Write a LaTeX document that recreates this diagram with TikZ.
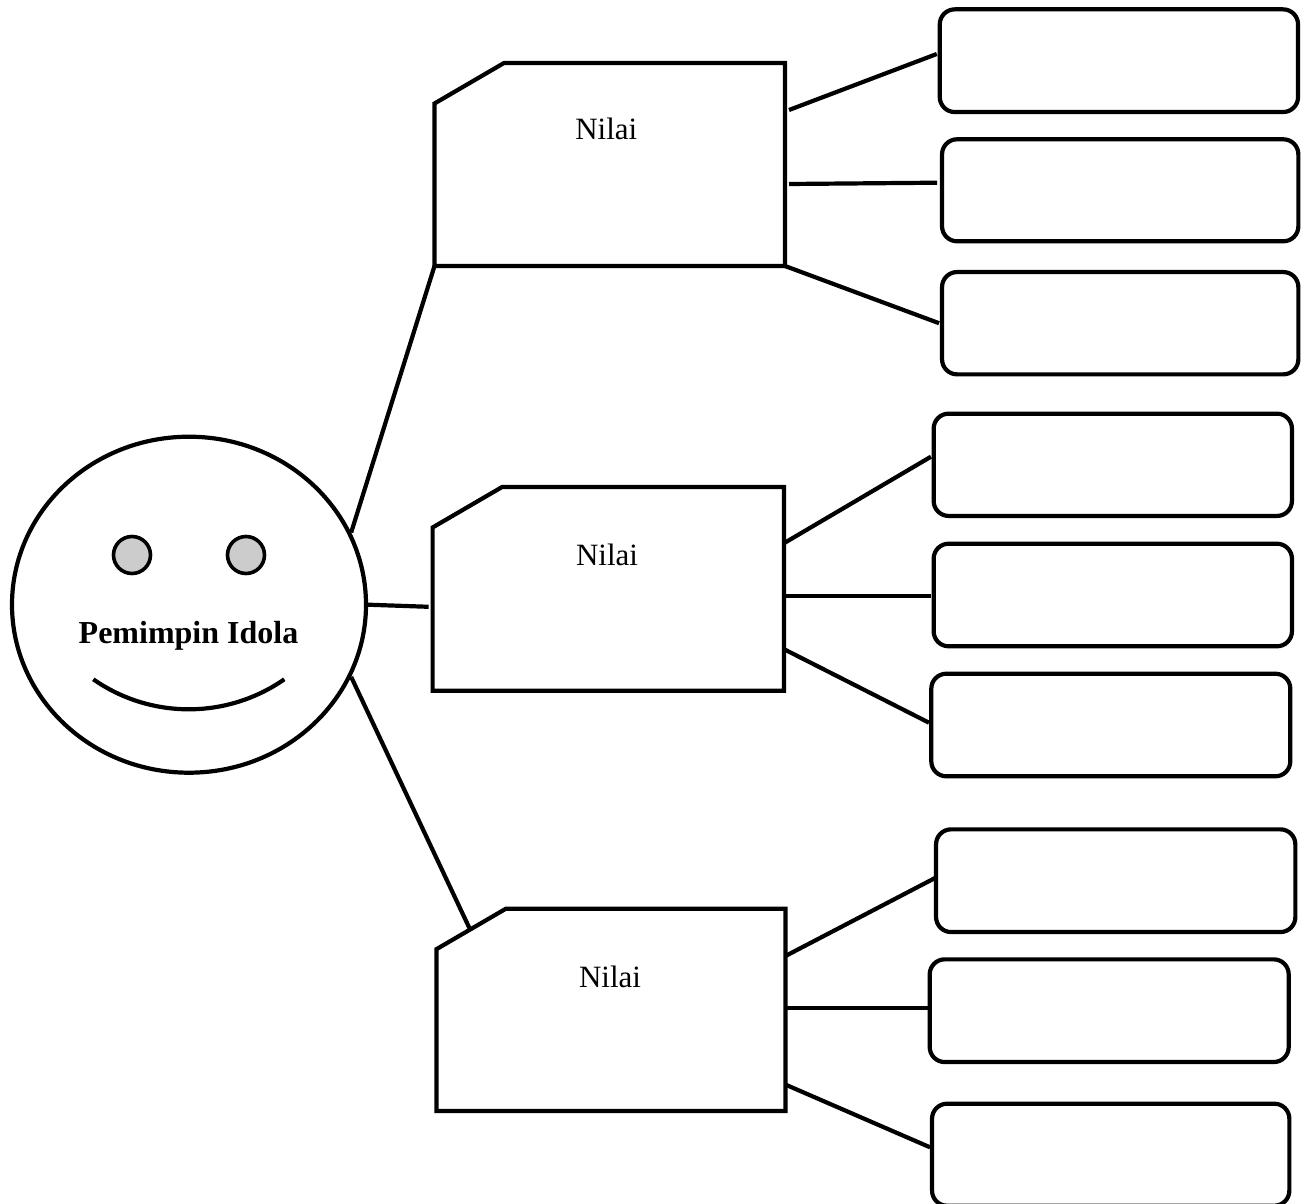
\documentclass[tikz,border=0pt]{standalone}
\usepackage{fontspec}
\setmainfont{Liberation Serif}
\usetikzlibrary{shapes.geometric,calc}
\definecolor{eyegray}{HTML}{CCCCCC}
\begin{document}
\begin{tikzpicture}[x=1pt,y=-1pt,
  ln/.style={line width=4.2pt},
  facebox/.style={ellipse,draw,line width=4.2pt,inner sep=0pt,minimum width=354pt,minimum height=336pt},
  eyedot/.style={circle,draw,fill=eyegray,line width=3.6pt,inner sep=0pt,minimum size=37pt},
  pentbox/.style={rectangle,draw=none,inner sep=0pt,outer sep=0pt},
  leafbox/.style={rectangle,draw,rounded corners=15pt,line width=4.2pt,inner sep=0pt,outer sep=0pt},
  nilaitext/.style={anchor=base,inner sep=0pt,font=\fontsize{31}{37}\selectfont},
  facetext/.style={anchor=base,inner sep=0pt,font=\fontsize{32}{38}\selectfont\bfseries}]
\useasboundingbox (0,0) rectangle (1307,1204);
\fill[white] (0,0) rectangle (1307,1204);

% face
\node[facebox] (face) at (189,604.7) {};
\node[eyedot] (eyeL) at (132,555) {};
\node[eyedot] (eyeR) at (246,555) {};
\node[facetext] (facelbl) at (188.5,643.3) {Pemimpin Idola};
\draw[ln] (93.3,679.3) .. controls (150.7,719.3) and (226.9,719.3) .. (284.3,679.3);

% pentagon nodes
\node[pentbox,minimum width=350.5pt,minimum height=203pt] (p1) at (609.75,164.5) {};
\node[pentbox,minimum width=351.4pt,minimum height=203.8pt] (p2) at (608.3,588.9) {};
\node[pentbox,minimum width=349pt,minimum height=202.2pt] (p3) at (610.9,1009.8) {};
\foreach \p in {p1,p2,p3}
  \draw[ln] ($(\p.north west)+(0,40.5)$) -- ($(\p.north west)+(69.5,0)$) -- (\p.north east)
    -- (\p.south east) -- (\p.south west) -- cycle;
\node[nilaitext] (t1) at ($(p1.north)+(-3.5,77)$) {Nilai};
\node[nilaitext] (t2) at ($(p2.north)+(-1.3,78)$) {Nilai};
\node[nilaitext] (t3) at ($(p3.north)+(-0.9,78.3)$) {Nilai};

% leaf boxes
\node[leafbox,minimum width=358.3pt,minimum height=102.7pt] (b11) at (1118.9,60.7) {};
\node[leafbox,minimum width=356.3pt,minimum height=102pt] (b12) at (1120.2,190.3) {};
\node[leafbox,minimum width=356.3pt,minimum height=102.3pt] (b13) at (1120.2,323.2) {};
\node[leafbox,minimum width=358.3pt,minimum height=102.3pt] (b21) at (1112.8,464.8) {};
\node[leafbox,minimum width=358.3pt,minimum height=102.6pt] (b22) at (1112.8,595) {};
\node[leafbox,minimum width=359pt,minimum height=102.6pt] (b23) at (1110.8,725) {};
\node[leafbox,minimum width=359.3pt,minimum height=102.7pt] (b31) at (1115.7,880.7) {};
\node[leafbox,minimum width=359pt,minimum height=102.7pt] (b32) at (1109.2,1010.7) {};
\node[leafbox,minimum width=357.3pt,minimum height=102pt] (b33) at (1110.7,1154.7) {};

% face to pentagons
\draw[ln] (face.24) -- (p1.south west);
\draw[ln] (face.0) -- ($(p2.south west)+(-4,-84)$);
\draw[ln] (face.-24) -- ($(p3.north west)+(33.3,20)$);

% pentagon 1 to boxes
\draw[ln] ($(p1.north east)+(4,47)$) -- ($(b11.west)+(-3,-6.7)$);
\draw[ln] ($(p1.north east)+(4,121)$) -- ($(b12.west)+(-5,-7.6)$);
\draw[ln] (p1.south east) -- ($(b13.west)+(-3,0)$);

% pentagon 2 to boxes
\draw[ln] ($(p2.north east)+(1,55.6)$) -- ($(b21.west)+(-2.7,-8.1)$);
\draw[ln] ($(p2.north east)+(1,109)$) -- ($(b22.west)+(-2.7,1)$);
\draw[ln] ($(p2.north east)+(1,162.7)$) -- ($(b23.west)+(-2.3,-2.3)$);

% pentagon 3 to boxes
\draw[ln] ($(p3.north east)+(1,46.8)$) -- ($(b31.west)+(-1,-2.7)$);
\draw[ln] ($(p3.north east)+(1,99.3)$) -- ($(b32.west)+(-1.7,-2.7)$);
\draw[ln] ($(p3.north east)+(1,176.3)$) -- ($(b33.west)+(-2,-7.4)$);
\end{tikzpicture}
\end{document}
